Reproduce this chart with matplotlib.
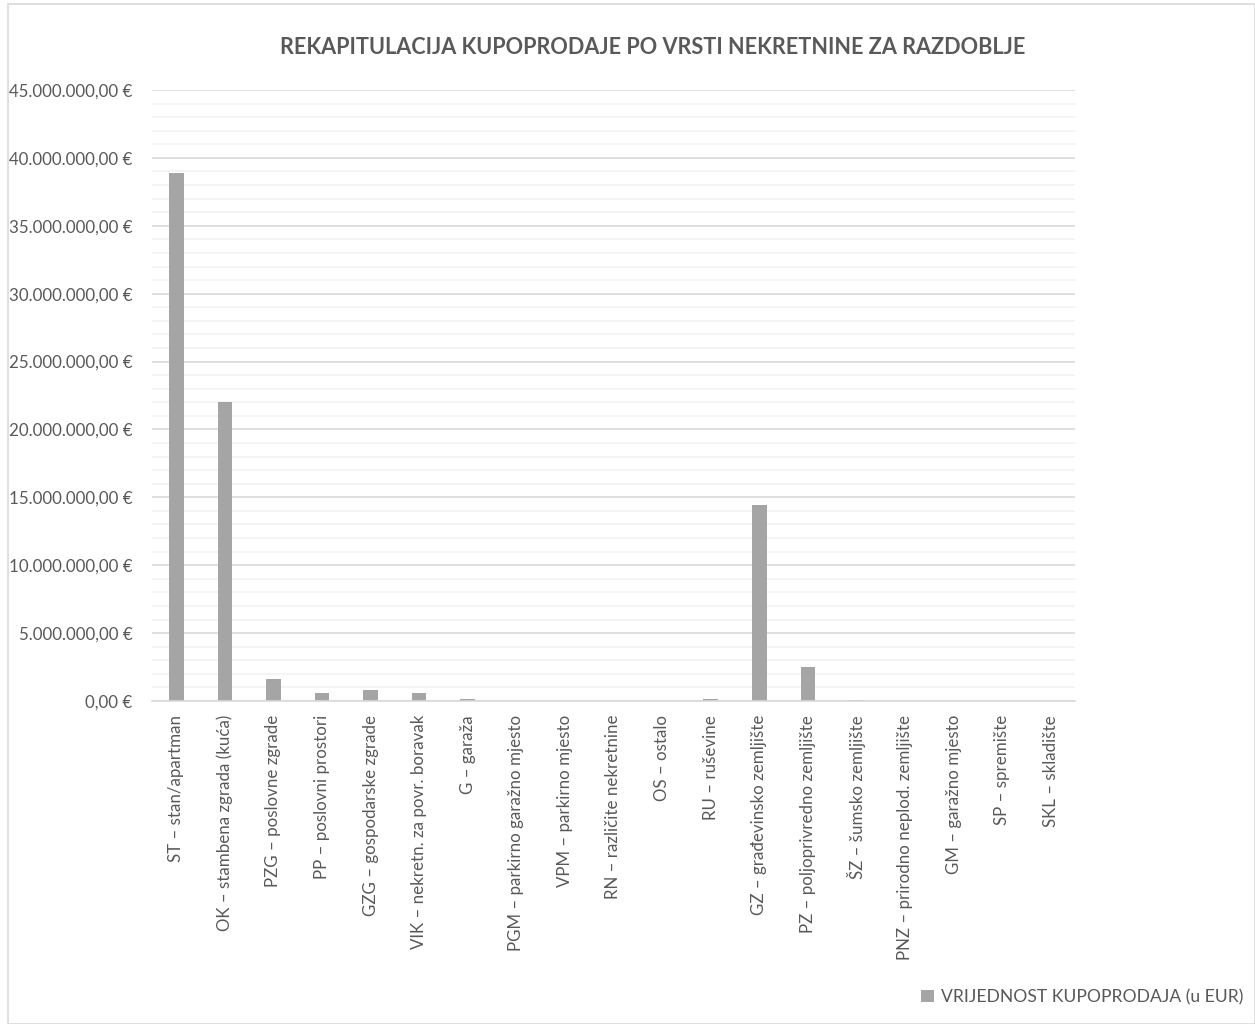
import matplotlib.pyplot as plt
from matplotlib.ticker import MultipleLocator, FuncFormatter
from matplotlib.patches import Rectangle

plt.rcParams['font.family'] = ['Lato', 'DejaVu Sans']

# Podaci
kategorije = [
    'ST – stan/apartman', 'OK – stambena zgrada (kuća)', 'PZG – poslovne zgrade',
    'PP – poslovni prostori', 'GZG – gospodarske zgrade', 'VIK – nekretn. za povr. boravak',
    'G – garaža', 'PGM – parkirno garažno mjesto', 'VPM – parkirno mjesto',
    'RN – različite nekretnine', 'OS – ostalo', 'RU – ruševine',
    'GZ – građevinsko zemljište', 'PZ – poljoprivredno zemljište', 'ŠZ – šumsko zemljište',
    'PNZ – prirodno neplod. zemljište', 'GM – garažno mjesto', 'SP – spremište',
    'SKL – skladište',
]
vrijednosti = [
    38900000, 22050000, 1620000, 590000, 810000, 570000, 150000, 0, 0, 0,
    0, 150000, 14450000, 2500000, 50000, 0, 0, 0, 0,
]
naziv_serije = 'VRIJEDNOST KUPOPRODAJA (u EUR)'
naslov = 'REKAPITULACIJA KUPOPRODAJE PO VRSTI NEKRETNINE ZA RAZDOBLJE'

tekst = '#595959'

fig = plt.figure(figsize=(12.55, 10.24), dpi=100)
ax = fig.add_axes([152 / 1255, 1 - 701 / 1024, (1075 - 152) / 1255, (701 - 90) / 1024])

x = range(len(kategorije))
ax.bar(x, vrijednosti, width=0.3, color='#A5A5A5', label=naziv_serije, zorder=3)

ax.set_xlim(-0.5, len(kategorije) - 0.5)
ax.set_ylim(0, 45000000)
ax.yaxis.set_major_locator(MultipleLocator(5000000))
ax.yaxis.set_minor_locator(MultipleLocator(1000000))


def eur(v, pos):
    s = f'{v:,.2f}'.replace(',', 'X').replace('.', ',').replace('X', '.')
    return s + ' €'


ax.yaxis.set_major_formatter(FuncFormatter(eur))
ax.grid(axis='y', which='major', color='#D9D9D9', linewidth=1.2, zorder=0)
ax.grid(axis='y', which='minor', color='#F2F2F2', linewidth=1.2, zorder=0)

ax.set_xticks(list(x))
ax.set_xticklabels(kategorije, rotation=90, va='top', ha='center')
ax.tick_params(axis='x', length=0, pad=10, labelsize=12.2, labelcolor=tekst)
ax.tick_params(axis='y', which='both', length=0, pad=14, labelsize=12.2, labelcolor=tekst)

for s in ['top', 'right', 'left']:
    ax.spines[s].set_visible(False)
ax.spines['bottom'].set_color('#D9D9D9')
ax.spines['bottom'].set_linewidth(1.2)
ax.spines['bottom'].set_zorder(4)

fig.text(653 / 1255, 1 - 48 / 1024, naslov, ha='center', va='center',
         fontsize=15.6, fontweight='bold', color=tekst)

leg = fig.legend(loc='lower right', bbox_to_anchor=(1.003, 0.003), frameon=False,
                 fontsize=12.6, handlelength=0.7, handleheight=0.7, handletextpad=0.4)
for t in leg.get_texts():
    t.set_color(tekst)

# okvir grafikona
fig.patches.append(Rectangle((8 / 1255, 0), 1 - 8 / 1255, 1 - 4 / 1024, transform=fig.transFigure,
                             fill=False, edgecolor='#D9D9D9', linewidth=1.2))

plt.savefig('out.png', dpi=100)
